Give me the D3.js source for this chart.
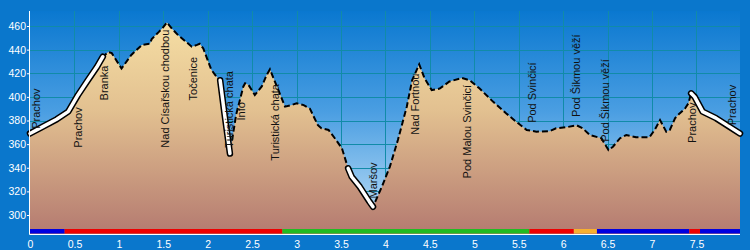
<!DOCTYPE html>
<html>
<head>
<meta charset="utf-8">
<script src="https://cdn.jsdelivr.net/npm/d3@7"></script>
<style>
body { margin: 0; background: #0a77cc; }
svg { display: block; font-family: Arial, "Liberation Sans", sans-serif; }
</style>
</head>
<body>
<svg id="main_svg" width="750" height="250"></svg>
<script>
// profile: distance (km) / elevation (m)
var distKm = [0, 0.15, 0.3, 0.43, 0.54, 0.65, 0.75, 0.82, 0.88, 0.92, 1.03, 1.14, 1.26, 1.35, 1.37, 1.45, 1.5, 1.54,
    1.6, 1.67, 1.75, 1.82, 1.88, 1.91, 1.95, 2.04, 2.1, 2.14, 2.19, 2.25, 2.32, 2.4, 2.42, 2.46, 2.53, 2.61, 2.66,
    2.7, 2.75, 2.81, 2.87, 2.94, 3.0, 3.08, 3.15, 3.24, 3.28, 3.36, 3.43, 3.51, 3.58, 3.62, 3.71, 3.82, 3.86, 3.96,
    4.05, 4.14, 4.24, 4.3, 4.38, 4.44, 4.52, 4.61, 4.72, 4.86, 4.95, 5.06, 5.21, 5.36, 5.47, 5.59, 5.7, 5.85, 5.92,
    6.05, 6.15, 6.22, 6.3, 6.43, 6.51, 6.56, 6.64, 6.71, 6.82, 6.97, 7.03, 7.09, 7.16, 7.2, 7.26, 7.31, 7.37, 7.41,
    7.44, 7.48, 7.57, 7.72, 7.87, 7.99];
var elevM = [369, 375, 381, 387.5, 401.6, 414, 425, 434, 438, 437, 424, 435.5, 444, 445, 449, 455, 459, 463,
    457.5, 452, 447, 442.5, 444, 445, 441, 423, 417, 414, 385, 352, 385, 408.6, 411.5, 410, 401.6, 409, 418,
    423.4, 414, 403, 391.7, 393, 394.6, 393, 390, 376, 373.4, 372, 365, 356.5, 339.5, 332.4, 324, 311.3, 307, 324,
    341, 363.5, 391.7, 414, 427.6, 415.7, 405.8, 407, 413, 416, 414, 407, 396, 386, 379, 372, 370.5, 371, 373.4,
    374.5, 376, 373.4, 367.7, 365, 355, 357.8, 365, 367.7, 365.8, 365.8, 372, 380.4, 370.5, 372, 382, 386, 390, 394.6,
    403, 400, 387.5, 382, 374.8, 369];

// parts of the route drawn as white road
var roadParts = [[0, 0.82], [2.14, 2.25], [3.58, 3.86], [7.44, 7.99]];

// coloured trail marking along the bottom
var trailBreaks = [0, 0.39, 2.84, 5.62, 6.12, 6.38, 7.42, 7.54, 7.99];
var trailColors = ["#0000e0", "#ee0000", "#22bb22", "#ee0000", "#f8b030", "#0000e0", "#ee0000", "#0000e0"];

// waypoints (text starts at placeElev)
var placeNames = ["Prachov", "Prachov", "Branka", "Nad Císařskou chodbou", "Točenice", "Turistická chata", "Info",
    "Turistická chata", "Maršov", "Nad Fortnou", "Pod Malou Svinčicí", "Pod Svinčicí", "Pod Šikmou věží",
    "Pod Šikmou věží", "Prachov", "Prachov"];
var placeKm = [0.11, 0.585, 0.88, 1.56, 1.88, 2.29, 2.42, 2.8, 3.9, 4.38, 4.96, 5.69, 6.19, 6.52, 7.49, 7.94];
var placeElev = [373, 357, 397, 357, 397, 357, 380, 346, 314, 368, 331, 378, 383, 362, 361, 376];

var xTicks = [0, 0.5, 1, 1.5, 2, 2.5, 3, 3.5, 4, 4.5, 5, 5.5, 6, 6.5, 7, 7.5];
var yTicks = [300, 320, 340, 360, 380, 400, 420, 440, 460];

var svg = d3.select("#main_svg");
var plotLeft = 30, plotRight = 740, plotTop = 11, plotBottom = 234;

var x = d3.scaleLinear().domain([0, 7.99]).range([plotLeft, plotRight]);
var y = d3.scaleLinear().domain([300, 460]).range([215, 26]);

var profile = distKm.map(function(d, i) {
    return {km: d, elev: elevM[i]};
});

drawBackground();
drawGrid();
drawProfile();
drawTrail();
drawAxes();
drawPlaces();

function drawBackground() {
    var defs = svg.append("defs");
    var sky = defs.append("linearGradient")
        .attr("id", "sky")
        .attr("gradientUnits", "userSpaceOnUse")
        .attr("x1", 0).attr("y1", plotTop)
        .attr("x2", 0).attr("y2", plotBottom);
    sky.append("stop").attr("offset", "0%").attr("stop-color", "#0a78d0");
    sky.append("stop").attr("offset", "45%").attr("stop-color", "#4a9ee2");
    sky.append("stop").attr("offset", "100%").attr("stop-color", "#c6e3f8");

    var ground = defs.append("linearGradient")
        .attr("id", "ground")
        .attr("gradientUnits", "userSpaceOnUse")
        .attr("x1", 0).attr("y1", plotTop)
        .attr("x2", 0).attr("y2", plotBottom);
    ground.append("stop").attr("offset", "0%").attr("stop-color", "#f8e2a6");
    ground.append("stop").attr("offset", "45%").attr("stop-color", "#e2c090");
    ground.append("stop").attr("offset", "100%").attr("stop-color", "#b47a70");

    svg.append("rect")
    .attr("width", 750)
    .attr("height", 250)
    .attr("fill", "#0a77cc");

    svg.append("rect")
    .attr("x", plotLeft)
    .attr("y", plotTop)
    .attr("width", plotRight - plotLeft)
    .attr("height", plotBottom - plotTop)
    .attr("fill", "url(#sky)");
}

function drawGrid() {
    var g = svg.append("g").attr("id", "grid")
        .attr("stroke", "#118ba8")
        .attr("stroke-width", 1);

    g.selectAll("line.v")
    .data(xTicks.slice(1))
    .enter()
    .append("line")
    .attr("class", "v")
    .attr("x1", function(d) { return Math.round(x(d)) + 0.5; })
    .attr("x2", function(d) { return Math.round(x(d)) + 0.5; })
    .attr("y1", plotTop)
    .attr("y2", plotBottom);

    g.selectAll("line.h")
    .data(yTicks)
    .enter()
    .append("line")
    .attr("class", "h")
    .attr("x1", plotLeft)
    .attr("x2", plotRight)
    .attr("y1", function(d) { return Math.round(y(d)) + 0.5; })
    .attr("y2", function(d) { return Math.round(y(d)) + 0.5; });
}

function drawProfile() {
    var area = d3.area()
        .x(function(d) { return x(d.km); })
        .y0(plotBottom)
        .y1(function(d) { return y(d.elev); });

    var line = d3.line()
        .x(function(d) { return x(d.km); })
        .y(function(d) { return y(d.elev); });

    svg.append("path")
    .datum(profile)
    .attr("d", area)
    .attr("fill", "url(#ground)");

    svg.append("path")
    .datum(profile)
    .attr("d", line)
    .attr("fill", "none")
    .attr("stroke", "#000")
    .attr("stroke-width", 2)
    .attr("stroke-dasharray", "6,3");

    roadParts.forEach(function(part) {
        var pts = profile.filter(function(d) {
            return d.km >= part[0] && d.km <= part[1];
        });
        svg.append("path")
        .datum(pts)
        .attr("d", line)
        .attr("fill", "none")
        .attr("stroke", "#000")
        .attr("stroke-width", 6.5)
        .attr("stroke-linejoin", "round")
        .attr("stroke-linecap", "round");
        svg.append("path")
        .datum(pts)
        .attr("d", line)
        .attr("fill", "none")
        .attr("stroke", "#fff")
        .attr("stroke-width", 3.5)
        .attr("stroke-linejoin", "round")
        .attr("stroke-linecap", "round");
    });
}

function drawTrail() {
    svg.append("g")
    .selectAll("rect")
    .data(trailColors)
    .enter()
    .append("rect")
    .attr("x", function(d, i) { return x(trailBreaks[i]); })
    .attr("width", function(d, i) { return x(trailBreaks[i + 1]) - x(trailBreaks[i]); })
    .attr("y", plotBottom - 5)
    .attr("height", 4.5)
    .attr("fill", function(d) { return d; });
}

function drawAxes() {
    var yAxis = svg.append("g")
        .attr("transform", "translate(" + plotLeft + ",0)")
        .call(d3.axisLeft(y).tickValues(yTicks).tickSize(3).tickPadding(1)
            .tickFormat(function(d) { return d; }));
    yAxis.select(".domain").remove();

    var xAxis = svg.append("g")
        .attr("transform", "translate(0," + plotBottom + ")")
        .call(d3.axisBottom(x).tickValues(xTicks).tickSize(0).tickPadding(7)
            .tickFormat(function(d) { return d; }));
    xAxis.select(".domain").remove();

    svg.selectAll(".tick line").attr("stroke", "#fff");
    svg.selectAll(".tick text")
    .attr("fill", "#fff")
    .attr("font-size", "10.5px")
    .attr("font-family", "Arial, 'Liberation Sans', sans-serif");

    svg.append("line")
    .attr("x1", plotLeft - 0.5).attr("x2", plotLeft - 0.5)
    .attr("y1", plotTop).attr("y2", plotBottom + 0.5)
    .attr("stroke", "#fff");

    svg.append("line")
    .attr("x1", plotLeft - 0.5).attr("x2", plotRight)
    .attr("y1", plotBottom + 0.5).attr("y2", plotBottom + 0.5)
    .attr("stroke", "#fff");
}

function drawPlaces() {
    svg.append("g")
    .selectAll("text")
    .data(placeNames)
    .enter()
    .append("text")
    .attr("transform", function(d, i) {
        return "translate(" + x(placeKm[i]) + "," + y(placeElev[i]) + ") rotate(-90)";
    })
    .attr("font-size", "11px")
    .attr("fill", "#111")
    .text(function(d) { return d; });
}
</script>
</body>
</html>
